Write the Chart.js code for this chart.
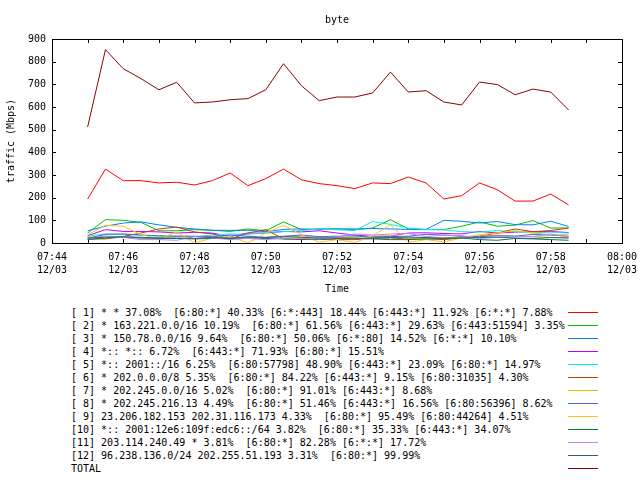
<!DOCTYPE html>
<html>
<head>
<meta charset="utf-8">
<script src="https://cdn.jsdelivr.net/npm/chart.js@4/dist/chart.umd.min.js"></script>
<style>
  html, body { margin: 0; padding: 0; background: #fff; }
  #page { position: relative; width: 640px; height: 480px; background: #fff; overflow: hidden; }
  #wrap { position: absolute; left: 0; top: 0; width: 640px; height: 300px; }
  .lg-text { position: absolute; left: 71px; font: 10px "DejaVu Sans Mono", monospace; line-height: 13px; white-space: pre; color: #000; }
  .lg-line { position: absolute; left: 568px; width: 30px; height: 1px; }
</style>
</head>
<body>
<div id="page">
  <div id="wrap"><canvas id="c"></canvas></div>
  <div id="legend"></div>
</div>
<script>
// ---- data ----
const chartTitle = "byte";
const yAxisTitle = "traffic (Mbps)";
const xAxisTitle = "Time";
const startTime = "07:44";
const xTickTimes = ["07:44","07:46","07:48","07:50","07:52","07:54","07:56","07:58","08:00"];
const xTickDate = "12/03";
const times = ["07:45:00","07:45:30","07:46:00","07:46:30","07:47:00","07:47:30","07:48:00","07:48:30",
  "07:49:00","07:49:30","07:50:00","07:50:30","07:51:00","07:51:30","07:52:00","07:52:30",
  "07:53:00","07:53:30","07:54:00","07:54:30","07:55:00","07:55:30","07:56:00","07:56:30",
  "07:57:00","07:57:30","07:58:00","07:58:30"];

const labels = [
  "[ 1] * * 37.08%  [6:80:*] 40.33% [6:*:443] 18.44% [6:443:*] 11.92% [6:*:*] 7.88%",
  "[ 2] * 163.221.0.0/16 10.19%  [6:80:*] 61.56% [6:443:*] 29.63% [6:443:51594] 3.35%",
  "[ 3] * 150.78.0.0/16 9.64%  [6:80:*] 50.06% [6:*:80] 14.52% [6:*:*] 10.10%",
  "[ 4] *:: *:: 6.72%  [6:443:*] 71.93% [6:80:*] 15.51%",
  "[ 5] *:: 2001::/16 6.25%  [6:80:57798] 48.90% [6:443:*] 23.09% [6:80:*] 14.97%",
  "[ 6] * 202.0.0.0/8 5.35%  [6:80:*] 84.22% [6:443:*] 9.15% [6:80:31035] 4.30%",
  "[ 7] * 202.245.0.0/16 5.02%  [6:80:*] 91.01% [6:443:*] 8.68%",
  "[ 8] * 202.245.216.13 4.49%  [6:80:*] 51.46% [6:443:*] 16.56% [6:80:56396] 8.62%",
  "[ 9] 23.206.182.153 202.31.116.173 4.33%  [6:80:*] 95.49% [6:80:44264] 4.51%",
  "[10] *:: 2001:12e6:109f:edc6::/64 3.82%  [6:80:*] 35.33% [6:443:*] 34.07%",
  "[11] 203.114.240.49 * 3.81%  [6:80:*] 82.28% [6:*:*] 17.72%",
  "[12] 96.238.136.0/24 202.255.51.193 3.31%  [6:80:*] 99.99%",
  "TOTAL"
];

const s1  = [194,326,275,275,265,268,256,275,309,253,284,326,279,262,253,240,265,262,291,265,194,209,265,235,185,185,216,168];
const s2  = [44,103,100,91,54,54,59,56,51,62,54,93,59,62,62,59,66,103,62,59,59,74,93,74,79,99,66,66];
const s3  = [54,74,88,93,80,69,62,56,56,56,50,60,62,60,62,62,64,62,60,60,100,96,88,95,81,80,96,73];
const s4  = [32,59,51,51,49,44,47,44,29,44,44,51,49,54,44,35,29,30,44,45,42,40,51,44,48,50,51,46];
const s5  = [30,40,38,35,30,30,28,35,40,38,45,50,55,62,58,55,95,82,66,60,58,50,48,55,50,45,48,44];
const s6  = [18,18,29,44,62,70,49,40,18,44,59,18,15,18,15,15,20,22,18,18,15,22,30,44,62,50,55,66];
const s7  = [25,30,28,22,25,30,28,25,20,22,25,28,30,25,22,28,30,32,25,20,22,28,30,35,30,28,25,22];
const s8  = [20,38,40,35,32,30,30,28,35,30,25,30,35,28,30,32,25,28,30,38,35,30,28,32,30,38,35,30];
const s9  = [37,78,74,37,18,49,0,22,29,0,44,78,37,3,15,2,32,81,2,15,5,22,37,44,55,44,37,37];
const s10 = [15,22,25,22,20,20,18,20,20,22,20,18,18,15,20,22,18,15,15,18,20,22,15,12,20,18,15,12];
const s11 = [20,30,25,15,15,12,28,22,15,20,15,22,20,18,25,40,35,40,42,28,35,32,20,25,30,28,40,25];
const s12 = [22,25,28,25,22,22,20,24,22,26,24,28,25,22,22,20,22,24,26,24,22,22,24,26,22,20,24,22];
const total = [512,853,769,725,676,709,618,622,632,637,676,791,694,628,644,644,662,754,666,672,622,609,710,699,654,679,666,587];

const colors = ["#ff0000","#00c000","#0080ff","#c000ff","#00eeee","#c04000","#c8c800","#4169e1","#ffc020","#008040","#c080ff","#306080","#8b0000"];
const seriesValues = [s1,s2,s3,s4,s5,s6,s7,s8,s9,s10,s11,s12,total];

// ---- build ----
function toMin(t) {
  const p = t.split(":").map(Number);
  const s = startTime.split(":").map(Number);
  return (p[0]*60 + p[1] + (p[2]||0)/60) - (s[0]*60 + s[1]);
}
const xs = times.map(toMin);
const N = seriesValues.length;
const datasets = seriesValues.map((vals, i) => ({
  label: labels[i],
  data: vals.map((v, k) => ({x: xs[k], y: v})),
  borderColor: colors[i],
  backgroundColor: colors[i],
  borderWidth: 1,
  pointRadius: 0,
  tension: 0,
  fill: false,
  order: N - 1 - i
}));

const FONT = {family: "'DejaVu Sans Mono', monospace", size: 10};

const framePlugin = {
  id: 'frame',
  beforeDatasetsDraw(chart) {
    const {ctx, chartArea: a, scales} = chart;
    ctx.save();
    ctx.strokeStyle = '#000';
    ctx.lineWidth = 1;
    ctx.beginPath();
    const L = 4;
    scales.y.ticks.forEach(t => {
      const y = Math.round(scales.y.getPixelForValue(t.value)) + 0.5;
      ctx.moveTo(a.left, y); ctx.lineTo(a.left + L, y);
      ctx.moveTo(a.right, y); ctx.lineTo(a.right - L, y);
    });
    for (let m = scales.x.min; m <= scales.x.max; m += 1) {
      const x = Math.round(scales.x.getPixelForValue(m)) + 0.5;
      ctx.moveTo(x, a.bottom); ctx.lineTo(x, a.bottom - L);
      ctx.moveTo(x, a.top); ctx.lineTo(x, a.top + L);
    }
    ctx.stroke();
    ctx.strokeRect(Math.round(a.left) + 0.5, Math.round(a.top) + 0.5, Math.round(a.right - a.left), Math.round(a.bottom - a.top));
    ctx.fillStyle = '#000';
    ctx.font = "10px 'DejaVu Sans Mono', monospace";
    ctx.textAlign = 'center';
    ctx.textBaseline = 'middle';
    ctx.fillText(chartTitle, (a.left + a.right) / 2, 20);
    ctx.restore();
  }
};

new Chart(document.getElementById('c'), {
  type: 'line',
  data: { datasets },
  plugins: [framePlugin],
  options: {
    responsive: true,
    maintainAspectRatio: false,
    animation: false,
    events: [],
    layout: { padding: { left: 0, right: 18, top: 39, bottom: 0 } },
    plugins: { legend: { display: false }, title: { display: false }, tooltip: { enabled: false } },
    scales: {
      x: {
        type: 'linear', min: 0, max: 16,
        afterFit(s) { s.height = 57; s.paddingLeft = 0; s.paddingRight = 0; },
        grid: { display: false, drawTicks: false },
        border: { display: false },
        ticks: {
          stepSize: 2, autoSkip: false, maxRotation: 0, padding: 8, color: '#000',
          font: {...FONT, lineHeight: 1.3},
          callback: (v) => { const i = Math.round(v / 2); return [xTickTimes[i], xTickDate]; }
        },
        title: { display: true, text: xAxisTitle, color: '#000', font: {...FONT, lineHeight: 1.2}, padding: {top: 4, bottom: 5} }
      },
      y: {
        min: 0, max: 900,
        afterFit(s) { s.width = 52; s.paddingTop = 0; s.paddingBottom = 0; },
        grid: { display: false, drawTicks: false },
        border: { display: false },
        ticks: { stepSize: 100, padding: 6, color: '#000', font: FONT },
        title: { display: true, text: yAxisTitle, color: '#000', font: {...FONT, lineHeight: 1.2}, padding: {top: 5, bottom: 0} }
      }
    }
  }
});

// legend (HTML text)
const lg = document.getElementById('legend');
labels.forEach((txt, i) => {
  const cy = 312 + 13 * i;
  const t = document.createElement('div');
  t.className = 'lg-text';
  t.style.top = (cy - 6.5) + 'px';
  t.textContent = txt;
  lg.appendChild(t);
  const l = document.createElement('div');
  l.className = 'lg-line';
  l.style.top = cy + 'px';
  l.style.background = colors[i];
  lg.appendChild(l);
});
</script>
</body>
</html>
